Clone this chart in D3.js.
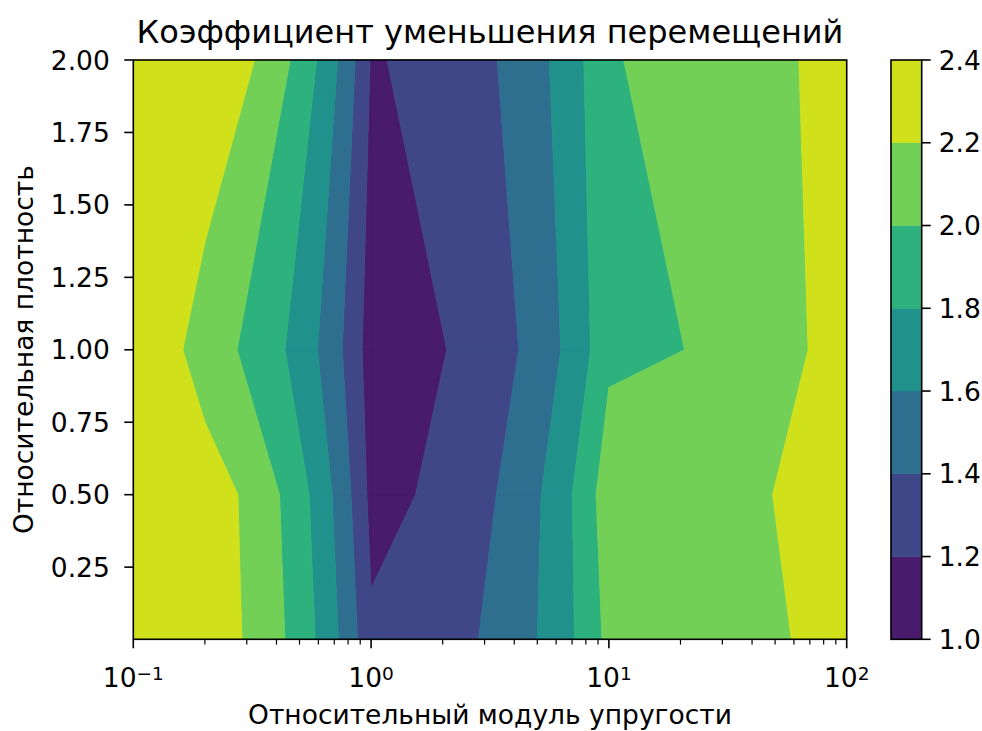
<!DOCTYPE html>
<html>
<head>
<meta charset="utf-8">
<script src="https://cdn.jsdelivr.net/npm/d3@7"></script>
<style>
  body { margin: 0; background: #fff; }
  svg text { font-family: "DejaVu Sans", sans-serif; fill: #000; }
</style>
</head>
<body>
<svg id="chart" width="982" height="731"></svg>
<script>
// Grid of the study: relative elastic modulus (columns) and relative density (rows)
const modulus = [0.1, 0.2, 1, 10, 100];
const density = [0.001, 0.5, 1, 2];
// Displacement reduction factor, one row per density value (bottom to top)
const factorRow0 = [2.38, 2.317, 1.232, 2.06, 2.32];
const factorRow1 = [2.38, 2.31, 1.141, 2.128, 2.295];
const factorRow2 = [2.374, 2.091, 1.097, 1.955, 2.33];
const factorRow3 = [2.39, 2.385, 1.185, 1.994, 2.344];
const factorRows = [factorRow0, factorRow1, factorRow2, factorRow3];

const levels = [1.0, 1.2, 1.4, 1.6, 1.8, 2.0, 2.2, 2.4];
const xTicks = [0.1, 1, 10, 100];
const xTickExp = ["\u22121", "0", "1", "2"];
const yTicks = [0.25, 0.5, 0.75, 1.0, 1.25, 1.5, 1.75, 2.0];
const cbTicks = [1.0, 1.2, 1.4, 1.6, 1.8, 2.0, 2.2, 2.4];

const titleText = "Коэффициент уменьшения перемещений";
const xLabelText = "Относительный модуль упругости";
const yLabelText = "Относительная плотность";

const svg = d3.select("#chart");
const plot = { left: 133.3, right: 846.7, top: 60, bottom: 639.3 };
const cbar = { left: 891, right: 921.7, top: 60, bottom: 639.3 };
const fontTick = 26.5, fontLabel = 26.5, fontTitle = 32;

const x = d3.scaleLog().domain([modulus[0], modulus[modulus.length - 1]]).range([plot.left, plot.right]);
const y = d3.scaleLinear().domain([density[0], density[density.length - 1]]).range([plot.bottom, plot.top]);
const norm = d3.scaleLinear().domain([levels[0], levels[levels.length - 1]]).range([0, 1]);
const bandColor = (lo, hi) => d3.interpolateViridis(norm((lo + hi) / 2));

// Clip a polygon (vertices carry data x, y and value z) against z >= t (keepAbove) or z <= t
function clipPoly(poly, t, keepAbove) {
  const out = [];
  const inside = p => keepAbove ? p.z >= t : p.z <= t;
  for (let i = 0; i < poly.length; i++) {
    const a = poly[i], b = poly[(i + 1) % poly.length];
    const ia = inside(a), ib = inside(b);
    if (ia) out.push(a);
    if (ia !== ib) {
      const f = (t - a.z) / (b.z - a.z);
      out.push({ x: a.x + f * (b.x - a.x), y: a.y + f * (b.y - a.y), z: t });
    }
  }
  return out;
}

// Filled contour bands, built cell by cell with linear interpolation along cell edges
const gFill = svg.append("g");
const line = d3.line().x(p => x(p.x)).y(p => y(p.y));

for (let k = 0; k < levels.length - 1; k++) {
  const lo = levels[k], hi = levels[k + 1];
  const col = bandColor(lo, hi);
  let d = "";
  for (let j = 0; j < density.length - 1; j++) {
    for (let i = 0; i < modulus.length - 1; i++) {
      let poly = [
        { x: modulus[i], y: density[j], z: factorRows[j][i] },
        { x: modulus[i + 1], y: density[j], z: factorRows[j][i + 1] },
        { x: modulus[i + 1], y: density[j + 1], z: factorRows[j + 1][i + 1] },
        { x: modulus[i], y: density[j + 1], z: factorRows[j + 1][i] }
      ];
      poly = clipPoly(poly, lo, true);
      if (poly.length > 2) poly = clipPoly(poly, hi, false);
      if (poly.length > 2) d += line(poly) + "Z";
    }
  }
  if (d) gFill.append("path").attr("d", d).attr("fill", col)
    .attr("stroke", col).attr("stroke-width", 0.8).attr("stroke-linejoin", "round");
}

// Axes frame
svg.append("rect").attr("x", plot.left).attr("y", plot.top)
  .attr("width", plot.right - plot.left).attr("height", plot.bottom - plot.top)
  .attr("fill", "none").attr("stroke", "#000").attr("stroke-width", 1.6);

// Y axis ticks and labels
const gy = svg.append("g");
yTicks.forEach(v => {
  gy.append("line").attr("x1", plot.left - 9).attr("x2", plot.left)
    .attr("y1", y(v)).attr("y2", y(v)).attr("stroke", "#000").attr("stroke-width", 1.6);
  gy.append("text").attr("x", plot.left - 23.5).attr("y", y(v)).attr("dy", "0.36em")
    .attr("text-anchor", "end").attr("font-size", fontTick).text(d3.format(".2f")(v));
});

// X axis: major and minor ticks on a log scale
const gx = svg.append("g");
const minor = [];
for (let e = -1; e < 2; e++) for (let m = 2; m <= 9; m++) minor.push(m * Math.pow(10, e));
minor.forEach(v => {
  gx.append("line").attr("x1", x(v)).attr("x2", x(v)).attr("y1", plot.bottom).attr("y2", plot.bottom + 5.3)
    .attr("stroke", "#000").attr("stroke-width", 1.2);
});
xTicks.forEach((v, i) => {
  gx.append("line").attr("x1", x(v)).attr("x2", x(v)).attr("y1", plot.bottom).attr("y2", plot.bottom + 9)
    .attr("stroke", "#000").attr("stroke-width", 1.6);
  const t = gx.append("text").attr("x", x(v)).attr("y", 686.7).attr("text-anchor", "middle").attr("font-size", fontTick);
  t.append("tspan").text("10");
  t.append("tspan").attr("dy", -7).attr("font-size", 18.5).text(xTickExp[i]);
});

// Title and axis labels
svg.append("text").attr("x", (plot.left + plot.right) / 2).attr("y", 43).attr("text-anchor", "middle")
  .attr("font-size", fontTitle).text(titleText);
svg.append("text").attr("x", (plot.left + plot.right) / 2).attr("y", 724.3).attr("text-anchor", "middle")
  .attr("font-size", fontLabel).text(xLabelText);
svg.append("text").attr("transform", `translate(33.3,${(plot.top + plot.bottom) / 2}) rotate(-90)`)
  .attr("text-anchor", "middle").attr("font-size", fontLabel).text(yLabelText);

// Colorbar
const cy = d3.scaleLinear().domain([levels[0], levels[levels.length - 1]]).range([cbar.bottom, cbar.top]);
const gc = svg.append("g");
for (let k = 0; k < levels.length - 1; k++) {
  const col = bandColor(levels[k], levels[k + 1]);
  gc.append("rect").attr("x", cbar.left).attr("width", cbar.right - cbar.left)
    .attr("y", cy(levels[k + 1])).attr("height", cy(levels[k]) - cy(levels[k + 1]))
    .attr("fill", col).attr("stroke", col).attr("stroke-width", 0.5);
}
gc.append("rect").attr("x", cbar.left).attr("y", cbar.top)
  .attr("width", cbar.right - cbar.left).attr("height", cbar.bottom - cbar.top)
  .attr("fill", "none").attr("stroke", "#000").attr("stroke-width", 1.6);
cbTicks.forEach(v => {
  gc.append("line").attr("x1", cbar.right).attr("x2", cbar.right + 9)
    .attr("y1", cy(v)).attr("y2", cy(v)).attr("stroke", "#000").attr("stroke-width", 1.6);
  gc.append("text").attr("x", cbar.right + 17).attr("y", cy(v)).attr("dy", "0.36em")
    .attr("font-size", fontTick).text(d3.format(".1f")(v));
});
</script>
</body>
</html>
